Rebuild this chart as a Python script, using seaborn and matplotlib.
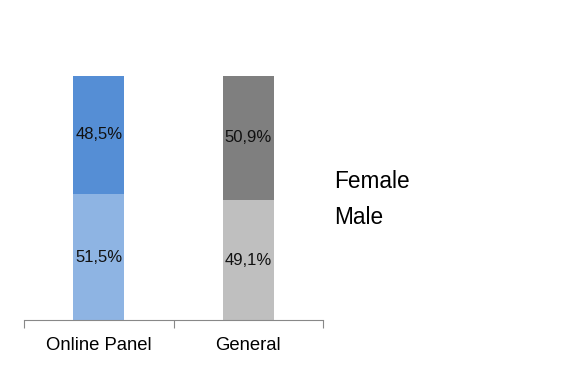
import pandas as pd
import seaborn as sns
from matplotlib import pyplot as plt

groups = ["Online Panel", "General"]
male = [51.5, 49.1]
female = [48.5, 50.9]
male_colors = ["#8EB4E3", "#BFBFBF"]
female_colors = ["#558ED5", "#7F7F7F"]

sns.set_style("white")
plt.rcParams["font.family"] = ["Liberation Sans", "DejaVu Sans"]

df = pd.DataFrame({"group": groups, "male": male, "female": female})
df["total"] = df["male"] + df["female"]

fig = plt.figure(figsize=(5.64, 3.85), dpi=100)
ax = fig.add_axes([24 / 564, 65 / 385, 299 / 564, 244.3 / 385])

# stacked: full bar in female colour, male segment drawn over it
sns.barplot(ax=ax, data=df, x="group", y="total", hue="group",
            palette=female_colors, width=0.34, legend=False, saturation=1,
            linewidth=0)
sns.barplot(ax=ax, data=df, x="group", y="male", hue="group",
            palette=male_colors, width=0.34, legend=False, saturation=1,
            linewidth=0)

for i in range(len(groups)):
    ax.text(i, male[i] / 2, f"{male[i]:.1f}%".replace(".", ","),
            ha="center", va="center", fontsize=12, color="#111111")
    ax.text(i, male[i] + female[i] / 2, f"{female[i]:.1f}%".replace(".", ","),
            ha="center", va="center", fontsize=12, color="#111111")

ax.set_xlim(-0.5, 1.5)
ax.set_ylim(0, 100)
ax.set_xlabel("")
ax.set_ylabel("")
ax.set_yticks([])
ax.set_xticks([-0.5, 0.5, 1.5], minor=False)
ax.set_xticklabels([])
ax.tick_params(axis="x", which="major", length=6, color="#888888", width=0.8,
               bottom=True)
ax.set_xticks([0, 1], minor=True)
ax.set_xticklabels(groups, minor=True, fontsize=13.3, color="black")
ax.tick_params(axis="x", which="minor", length=0, pad=12)
for s in ["top", "right", "left"]:
    ax.spines[s].set_visible(False)
ax.spines["bottom"].set_color("#888888")
ax.spines["bottom"].set_linewidth(0.8)

fig.text(334 / 564, 1 - 181 / 385, "Female", fontsize=16.3, va="center",
         color="black")
fig.text(334 / 564, 1 - 217 / 385, "Male", fontsize=16.3, va="center",
         color="black")

fig.savefig("out.png", dpi=100)
